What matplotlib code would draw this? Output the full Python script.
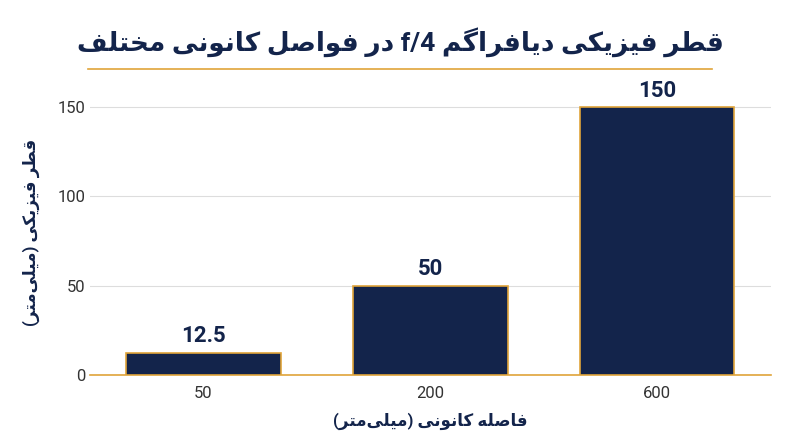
import matplotlib
matplotlib.use("Agg")
import matplotlib.pyplot as plt

categories = ["50", "200", "600"]
values = [12.5, 50, 150]
value_labels = ["12.5", "50", "150"]
title = "قطر فیزیکی دیافراگم f/4 در فواصل کانونی مختلف"
xlabel = "فاصله کانونی (میلی\u200cمتر)"
ylabel = "قطر فیزیکی (میلی\u200cمتر)"

# minimal Persian shaping: (isolated, final, initial, medial)
FORMS = {
    'ا': (0xFE8D, 0xFE8E, None, None), 'د': (0xFEA9, 0xFEAA, None, None),
    'ر': (0xFEAD, 0xFEAE, None, None), 'ز': (0xFEAF, 0xFEB0, None, None),
    'و': (0xFEED, 0xFEEE, None, None),
    'ت': (0xFE95, 0xFE96, 0xFE97, 0xFE98), 'خ': (0xFEA5, 0xFEA6, 0xFEA7, 0xFEA8),
    'ص': (0xFEB9, 0xFEBA, 0xFEBB, 0xFEBC), 'ط': (0xFEC1, 0xFEC2, 0xFEC3, 0xFEC4),
    'ف': (0xFED1, 0xFED2, 0xFED3, 0xFED4), 'ق': (0xFED5, 0xFED6, 0xFED7, 0xFED8),
    'ل': (0xFEDD, 0xFEDE, 0xFEDF, 0xFEE0), 'م': (0xFEE1, 0xFEE2, 0xFEE3, 0xFEE4),
    'ن': (0xFEE5, 0xFEE6, 0xFEE7, 0xFEE8), 'ه': (0xFEE9, 0xFEEA, 0xFEEB, 0xFEEC),
    'ک': (0xFB8E, 0xFB8F, 0xFB90, 0xFB91), 'گ': (0xFB92, 0xFB93, 0xFB94, 0xFB95),
    'ی': (0xFBFC, 0xFBFD, 0xFBFE, 0xFBFF),
}
MIRROR = {'(': ')', ')': '('}


def shape(s):
    out = []
    for i, c in enumerate(s):
        if c not in FORMS:
            if c != '\u200c':
                out.append(c)
            continue
        prev = s[i - 1] if i > 0 else ''
        nxt = s[i + 1] if i + 1 < len(s) else ''
        jp = prev in FORMS and FORMS[prev][2] is not None
        jn = FORMS[c][2] is not None and nxt in FORMS
        f = FORMS[c]
        code = f[3] if (jp and jn) else f[1] if jp else f[2] if jn else f[0]
        out.append(chr(code))
    # visual order: reverse, keep latin/digit runs LTR
    rev = [MIRROR.get(c, c) for c in reversed(out)]
    res, run = [], []
    for c in rev:
        if c.isascii() and (c.isalnum() or c in '/.'):
            run.append(c)
        else:
            res.extend(reversed(run)); run = []
            res.append(c)
    res.extend(reversed(run))
    return ''.join(res)


plt.rcParams['font.family'] = ['Roboto', 'DejaVu Sans']
navy = '#13244b'
gold = '#e0a43a'

fig = plt.figure(figsize=(8, 4.47), dpi=100)
ax = fig.add_axes([0.1125, 0.161, 0.851, 0.6397])
x = range(len(categories))
bars = ax.bar(x, values, width=0.68, color=navy, edgecolor=gold, linewidth=1.2, zorder=3)
for b, lab in zip(bars, value_labels):
    ax.text(b.get_x() + b.get_width() / 2, b.get_height() + 3, lab, ha='center', va='bottom',
            fontsize=16, fontweight='bold', color=navy)
ax.set_xlim(-0.5, 2.5)
ax.set_ylim(0, 160)
ax.set_yticks([0, 50, 100, 150])
ax.set_xticks(list(x))
ax.set_xticklabels(categories)
ax.tick_params(axis='both', labelsize=12, colors='#333333', length=0)
ax.tick_params(axis='x', pad=8)
ax.grid(axis='y', color='#dddddd', linewidth=0.8, zorder=0)
for sp in ['top', 'right', 'left']:
    ax.spines[sp].set_visible(False)
ax.spines['bottom'].set_color(gold)
ax.spines['bottom'].set_linewidth(1.2)
ax.set_xlabel(shape(xlabel), fontsize=12, fontweight='bold', color=navy, labelpad=8)
ax.set_ylabel(shape(ylabel), fontsize=12, fontweight='bold', color=navy, labelpad=12)

fig.text(0.5, 0.905, shape(title), ha='center', va='center', fontsize=19,
         fontweight='bold', color=navy)
fig.add_artist(plt.Line2D([0.11, 0.89], [0.845, 0.845], color=gold, linewidth=1.2))
fig.savefig('out.png', dpi=100)
